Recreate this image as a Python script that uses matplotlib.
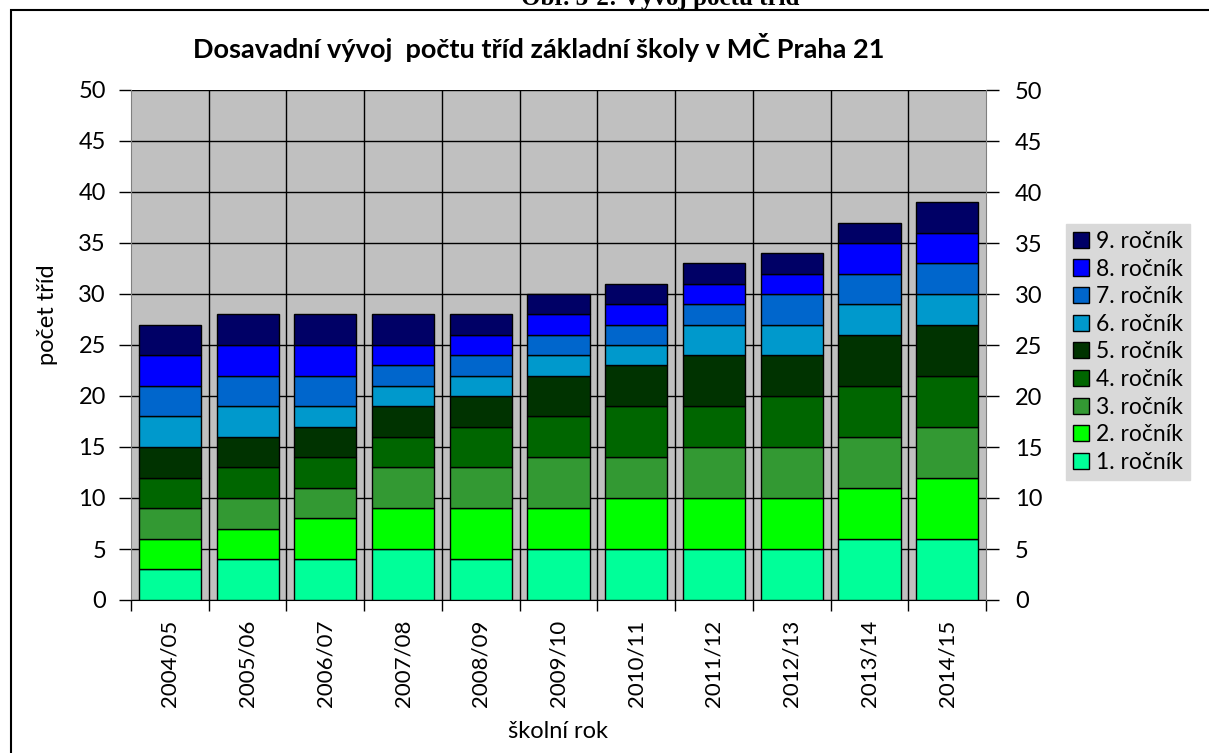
import matplotlib

matplotlib.use("Agg")
import matplotlib.pyplot as plt
import numpy as np
from matplotlib.patches import Rectangle

plt.rcParams["font.family"] = ["Lato", "DejaVu Sans"]

# school years on the x axis
years = ["2004/05", "2005/06", "2006/07", "2007/08", "2008/09", "2009/10",
         "2010/11", "2011/12", "2012/13", "2013/14", "2014/15"]

# number of classes per grade (1. to 9. ročník), one list per grade
grade1 = [3, 4, 4, 5, 4, 5, 5, 5, 5, 6, 6]
grade2 = [3, 3, 4, 4, 5, 4, 5, 5, 5, 5, 6]
grade3 = [3, 3, 3, 4, 4, 5, 4, 5, 5, 5, 5]
grade4 = [3, 3, 3, 3, 4, 4, 5, 4, 5, 5, 5]
grade5 = [3, 3, 3, 3, 3, 4, 4, 5, 4, 5, 5]
grade6 = [3, 3, 2, 2, 2, 2, 2, 3, 3, 3, 3]
grade7 = [3, 3, 3, 2, 2, 2, 2, 2, 3, 3, 3]
grade8 = [3, 3, 3, 2, 2, 2, 2, 2, 2, 3, 3]
grade9 = [3, 3, 3, 3, 2, 2, 2, 2, 2, 2, 3]

grades = [grade1, grade2, grade3, grade4, grade5, grade6, grade7, grade8, grade9]
labels = [f"{i}. ročník" for i in range(1, 10)]
colors = ["#00FF99", "#00FF00", "#339933", "#006600", "#003300",
          "#0099CC", "#0066CC", "#0000FF", "#000066"]

W, H = 1209, 753
fig = plt.figure(figsize=(W / 100, H / 100), dpi=100)

# outer frame of the chart object (only top and left edges are visible)
fig.patches.append(Rectangle((11 / W, -0.1), 1.2, 1 - 10 / H + 0.1, transform=fig.transFigure,
                             fill=False, edgecolor="black", linewidth=1.5))
# figure caption above the frame, cut off by the top edge like in the source
fig.text(660 / W, 1 - 5 / H, "Obr. 3-2: Vývoj počtu tříd", ha="center", va="baseline",
         fontsize=18, fontweight="bold", family="Liberation Serif")

ax = fig.add_axes([131 / W, 1 - 600 / H, (986 - 131) / W, (600 - 90) / H])
ax.set_facecolor("#C0C0C0")

x = np.arange(len(years))
bottom = np.zeros(len(years))
handles = []
for vals, lab, col in zip(grades, labels, colors):
    b = ax.bar(x, vals, 0.8, bottom=bottom, color=col, edgecolor="black",
               linewidth=1, label=lab, zorder=3)
    handles.append(b)
    bottom += vals

ax.set_xlim(-0.5, len(years) - 0.5)
ax.set_ylim(0, 50)
ax.set_yticks(range(0, 51, 5))
ax.yaxis.grid(True, color="black", linewidth=1, zorder=0)
ax.set_axisbelow(True)
for b in np.arange(0.5, len(years) - 0.5, 1):
    ax.axvline(b, color="black", linewidth=1, zorder=1)

ax.set_xticks(np.arange(-0.5, len(years), 1), minor=False)
ax.set_xticklabels([])
ax.set_xticks(x, minor=True)
ax.set_xticklabels(years, minor=True, rotation=90, fontsize=16)
ax.tick_params(axis="x", which="major", direction="out", length=8, width=1)
ax.tick_params(axis="x", which="minor", length=0, pad=14)
ax.tick_params(axis="y", direction="out", length=9, width=1, labelsize=17, pad=9)

for s in ["top", "right"]:
    ax.spines[s].set_visible(False)
ax.spines["left"].set_color("#808080")
ax.spines["bottom"].set_color("black")

ax2 = ax.twinx()
ax2.set_ylim(0, 50)
ax2.set_yticks(range(0, 51, 5))
ax2.tick_params(axis="y", direction="out", length=9, width=1, labelsize=17, pad=12)
for s in ["top", "left", "bottom"]:
    ax2.spines[s].set_visible(False)
ax2.spines["right"].set_color("#808080")

fig.text(539 / W, 1 - 47 / H, "Dosavadní vývoj  počtu tříd základní školy v MČ Praha 21",
         ha="center", va="center", fontsize=19.5, fontweight="bold")
fig.text(47 / W, 1 - 315 / H, "počet tříd", rotation=90, ha="center", va="center", fontsize=17)
fig.text(558 / W, 1 - 732 / H, "školní rok", ha="center", va="center", fontsize=17)

leg = fig.legend(handles[::-1], labels[::-1], loc="upper left",
                 bbox_to_anchor=(1066 / W, 1 - 224 / H), fontsize=16.5,
                 frameon=True, fancybox=False, facecolor="#D9D9D9", edgecolor="#D9D9D9",
                 framealpha=1, handlelength=0.7, handleheight=0.7, handletextpad=0.3,
                 labelspacing=0.29, borderpad=0.3, borderaxespad=0)

fig.savefig("out.png", dpi=100)
